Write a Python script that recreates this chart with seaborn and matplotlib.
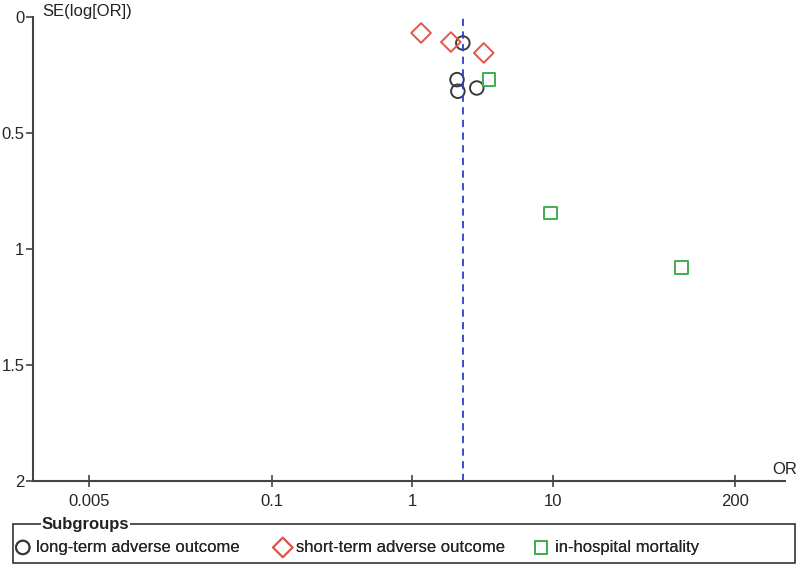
import numpy as np
import pandas as pd
import matplotlib
matplotlib.use('Agg')
import matplotlib.pyplot as plt
from matplotlib.patches import Rectangle
import seaborn as sns

# funnel plot data
groups = ['long-term adverse outcome', 'short-term adverse outcome', 'in-hospital mortality']
long_or = [2.3, 2.09, 2.12, 2.89]
long_se = [0.112, 0.27, 0.32, 0.306]
short_or = [1.16, 1.89, 3.24]
short_se = [0.069, 0.108, 0.155]
hosp_or = [3.52, 9.7, 83]
hosp_se = [0.27, 0.845, 1.08]
pooled_or = 2.3

xticks = [0.005, 0.1, 1, 10, 200]
xtick_labels = ['0.005', '0.1', '1', '10', '200']
yticks = [0, 0.5, 1, 1.5, 2]
ytick_labels = ['0', '0.5', '1', '1.5', '2']

df = pd.DataFrame({
    'OR': long_or + short_or + hosp_or,
    'SE': long_se + short_se + hosp_se,
    'group': [groups[0]] * len(long_or) + [groups[1]] * len(short_or) + [groups[2]] * len(hosp_or),
})

sns.set_style('white')
plt.rcParams['font.family'] = ['Liberation Sans', 'DejaVu Sans']

fig = plt.figure(figsize=(8, 5.66), dpi=100)
ax = fig.add_axes([0.041, 0.15, 0.94, 0.82])

colors = {groups[0]: '#3a3a3a', groups[1]: '#e0574a', groups[2]: '#3fae4f'}
markers = {groups[0]: 'o', groups[1]: 'D', groups[2]: 's'}
sizes = {groups[0]: 95, groups[1]: 100, groups[2]: 80}
for g in groups:
    sub = df[df.group == g]
    sns.scatterplot(data=sub, x='OR', y='SE', ax=ax, marker=markers[g], s=sizes[g],
                    facecolor='none', edgecolor=colors[g], linewidth=1.4, label=g, legend=False)

ax.axvline(pooled_or, color='#2a3fd0', linestyle=(0, (4, 3)), linewidth=1.3)

ax.set_xscale('log')
ax.set_xlim(0.002, 450)
ax.set_ylim(2, 0)
ax.set_xticks(xticks)
ax.set_xticklabels(xtick_labels)
ax.set_yticks(yticks)
ax.set_yticklabels(ytick_labels)
ax.minorticks_off()
ax.set_xlabel('')
ax.set_ylabel('')
for s in ['top', 'right']:
    ax.spines[s].set_visible(False)
for s in ['left', 'bottom']:
    ax.spines[s].set_color('#444444')
    ax.spines[s].set_linewidth(1.5)
ax.tick_params(axis='x', direction='inout', length=8, width=1.2, color='#444444', labelsize=12, pad=5)
ax.tick_params(axis='y', direction='out', length=5, width=1.2, color='#444444', labelsize=12, pad=1)
ax.tick_params(left=True, bottom=True)

fig.text(0.053, 0.979, 'SE(log[OR])', fontsize=12, ha='left', va='center', color='#222222')
fig.text(0.997, 0.17, 'OR', fontsize=12, ha='right', va='center', color='#222222')

# legend group box
fig.patches.append(Rectangle((0.016, 0.006), 0.978, 0.068, transform=fig.transFigure,
                             fill=False, edgecolor='#333333', linewidth=1.2))
fig.text(0.052, 0.073, 'Subgroups', fontsize=12, fontweight='bold', ha='left', va='center',
         color='#222222', bbox=dict(facecolor='white', edgecolor='none', pad=0.5))
handles, labels = ax.get_legend_handles_labels()
legend_x = [0.016, 0.341, 0.664]
for h, lab, lx in zip(handles, labels, legend_x):
    leg = fig.legend([h], [lab], loc='center left', bbox_to_anchor=(lx, 0.033),
                     frameon=False, fontsize=12, handletextpad=0.2, handlelength=1.2,
                     borderaxespad=0, borderpad=0)
    fig.add_artist(leg)

fig.savefig('out.png', dpi=100, facecolor='white')
